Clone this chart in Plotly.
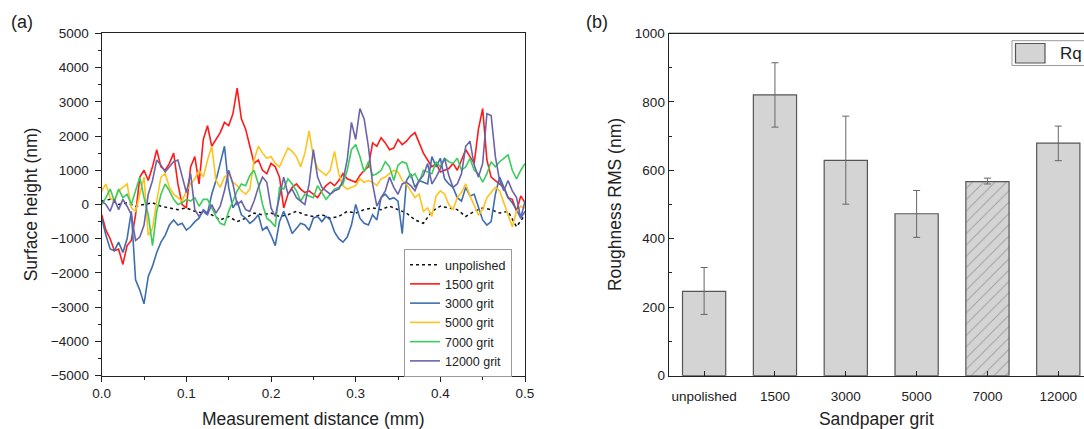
import numpy as np
import plotly.graph_objects as go

# ---------------- surface profiles (nm) vs distance (mm) ----------------
distance_mm = np.round(np.arange(0, 0.5001, 0.005), 3)
distance_unpolished_mm = np.round(np.arange(0, 0.5001, 0.01), 2)

unpolished = [100, 150, 0, 50, -50, 0, 50, -50, -100, -150,
              -100, -200, -250, -300, -450, -350, -500, -400, -250, -300,
              -250, -350, -300, -200, -300, -350, -300, -400, -350, -200,
              -250, -150, -100, -150, -50, -150, -250, -450, -550, -200,
              -50, -100, -150, -350, -200, -100, -150, -250, -200, -650,
              -300]

grit_1500 = [-300, -750, -1000, -1350, -1300, -1750, -1200, -1050, -300, 800,
             1000, 700, 1100, 1600, 1100, 1000, 1200, 1500, 600, 0,
             -100, 1100, 1400, 600, 1900, 2300, 1700, 1900, 2100, 2400,
             2300, 2650, 3400, 2500, 2200, 1700, 1200, 1300, 1000, 900,
             1200, 1100, 800, -100, 300, 500, 600, 450, 350, 400,
             300, 200, 400, 550, 650, 550, 700, 900, 750, 700,
             650, 850, 1000, 1100, 1800, 1700, 1950, 1800, 1600, 1650,
             1900, 1750, 1850, 2000, 2100, 1800, 1500, 1300, 1100, 1200,
             950, 1000, 1050, 1200, 1000, 1300, 1600, 1400, 1200, 2200,
             2800, 1300, 800, 700, 600, 500, 200, 150, -200, 250,
             50]

grit_3000 = [-400, -900, -1300, -1350, -1100, -1400, -1000, -200, -2200, -2500,
             -2900, -2100, -1800, -1400, -1100, -900, -600, -450, -600, -550,
             -750, -650, -500, -400, -150, -250, 300, 700, 1200, 1700,
             500, -100, 100, -300, -400, -550, -450, -300, -750, -650,
             -900, -1200, -500, -200, -500, -850, -700, -550, -600, -750,
             -400, -350, -500, -350, -450, -800, -1000, -1100, -950, -600,
             0, -400, -550, -600, -300, -450, 200, 300, 150, 200,
             100, -850, 700, 900, 500, 700, 650, 600, 1400, 1100,
             1350, 750, 600, 500, 200, 100, 500, 250, 300, -100,
             -450, -600, -500, 300, 800, 500, 200, 50, -150, -400,
             -200]

grit_5000 = [400, 600, 200, 100, 400, 500, 600, -100, -200, 300,
             800, -900, -700, 100, 800, 900, 500, 300, 200, 100,
             400, 600, 750, 1000, 800, 1300, 1700, 700, 500, 800,
             900, 650, 550, 400, 300, 450, 1300, 1700, 1500, 1350,
             1400, 1200, 1100, 1400, 1650, 1550, 1400, 1100, 1500, 2150,
             1400, 1050, 950, 850, 1000, 1550, 900, 550, 450, 500,
             550, 750, 650, 700, 650, 550, 750, 800, 900, 1000,
             950, 700, 600, 400, 200, 300, -200, -100, -350, 250,
             400, 300, 0, -150, 200, 350, 600, 250, 0, -300,
             -150, 200, 350, 500, 400, 50, -350, -650, -200, -50,
             -100]

grit_7000 = [0, 200, 450, 100, 450, 200, 300, 0, 400, 800,
             200, -300, -1200, -200, 300, 600, 400, 150, 0, 50,
             150, 100, 200, -50, 150, 150, -100, -350, -550, -600,
             -200, 100, 400, 600, 550, 850, 1000, 600, 0, -400,
             -500, -650, 500, 450, 750, 600, 400, 100, 300, 250,
             200, 550, 350, 150, 300, 450, 500, 600, 1000, 1600,
             1750, 1400, 950, 1250, 850, 900, 1000, 1250, 1100, 700,
             1150, 1250, 1200, 800, 900, 650, 1000, 950, 900, 1250,
             1100, 1350, 1250, 1200, 1350, 1000, 1100, 1350, 1000, 900,
             650, 900, 1250, 1100, 1250, 1350, 1450, 1000, 750, 1000,
             1200]

grit_12000 = [100, 0, -200, 150, -150, 150, -50, -300, -1050, -950,
              -600, 300, 700, 1300, 1150, 950, 1100, 1250, 1300, 800,
              350, 900, -150, -350, -200, -300, 0, -250, -50, 400,
              1000, 600, 0, 100, -150, -200, 100, 500, 800, 650,
              -100, -350, 200, 800, 300, 450, 200, 100, 0, 600,
              1600, 800, 500, 400, 300, 400, 450, 700, 1300, 2400,
              1900, 2800, 2500, 1700, 600, -50, 200, 400, 800, 500,
              300, 600, 650, 550, 400, 700, 850, 1200, 600, 800,
              1050, 1350, 850, 500, 600, 900, 1700, 1850, 1150, 800,
              1200, 2650, 2600, 1400, 700, 400, 700, 400, 200, -400,
              100]

# ---------------- roughness summary ----------------
grit_labels = ["unpolished", "1500", "3000", "5000", "7000", "12000"]
rq_nm = [246, 820, 629, 473, 567, 679]
rq_err_plus = [70, 94, 129, 68, 10, 50]
rq_err_minus = [67, 94, 128, 69, 7, 51]
bar_patterns = ["", "", "", "", "/", ""]

FONT = "Liberation Sans, Arial, sans-serif"
TXT = "#222222"
W, H = 1084, 429
TICK_SIZE = 13.5
TITLE_SIZE = 17.5

fig = go.Figure()

profiles = [
    ("1500 grit", grit_1500, "#FF1A1A"),
    ("3000 grit", grit_3000, "#3E6DB0"),
    ("5000 grit", grit_5000, "#FFC31F"),
    ("7000 grit", grit_7000, "#3CCB5C"),
    ("12000 grit", grit_12000, "#6A64AA"),
]

fig.add_trace(go.Scatter(
    x=distance_unpolished_mm, y=unpolished, name="unpolished", mode="lines",
    line=dict(color="#111111", width=1.5, dash="dot"),
    xaxis="x", yaxis="y", legend="legend"))
for name, vals, col in profiles:
    fig.add_trace(go.Scatter(
        x=distance_mm, y=vals, name=name, mode="lines",
        line=dict(color=col, width=1.6),
        xaxis="x", yaxis="y", legend="legend"))

fig.add_trace(go.Bar(
    x=grit_labels, y=rq_nm, name="Rq", width=0.61,
    marker=dict(color="#D4D4D4", line=dict(color="#555555", width=1.2),
                pattern=dict(shape=bar_patterns, fgcolor="#6E6E6E",
                             bgcolor="#D4D4D4", size=8, solidity=0.12,
                             fillmode="overlay")),
    error_y=dict(type="data", array=rq_err_plus, arrayminus=rq_err_minus,
                 color="#666666", thickness=1, width=3.5),
    xaxis="x2", yaxis="y2", showlegend=False))

axis_common = dict(showgrid=False, zeroline=False, showline=True,
                   linecolor="#222222", linewidth=1.2, tickcolor="#222222",
                   tickfont=dict(family=FONT, size=TICK_SIZE, color=TXT),
                   automargin=False)
title_font = dict(family=FONT, size=TITLE_SIZE, color=TXT)

fig.update_layout(
    width=W, height=H,
    margin=dict(l=0, r=0, t=0, b=0, autoexpand=False),
    paper_bgcolor="white", plot_bgcolor="white",
    font=dict(family=FONT, color=TXT),
    xaxis=dict(domain=[101.7 / W, 525 / W], range=[0, 0.5], dtick=0.1,
               tickformat=".1f", ticks="outside", ticklen=5, mirror=True,
               minor=dict(dtick=0.05, ticks="outside", ticklen=3,
                          tickcolor="#222222"),
               title=dict(text="Measurement distance (mm)", font=title_font,
                          standoff=12),
               anchor="y", **axis_common),
    yaxis=dict(domain=[(H - 375.7) / H, (H - 33.3) / H], range=[-5000, 5000],
               dtick=1000, ticks="outside", ticklen=6, mirror=True,
               ticklabelstandoff=3,
               minor=dict(dtick=500, ticks="outside", ticklen=3,
                          tickcolor="#222222"),
               title=dict(text="Surface height (nm)", font=title_font,
                          standoff=8),
               anchor="x", **axis_common),
    xaxis2=dict(domain=[668.7 / W, 1.0], range=[-0.5, 5.363],
                type="category", ticks="inside", ticklen=5,
                ticklabelstandoff=8,
                title=dict(text="Sandpaper grit", font=title_font,
                           standoff=13),
                anchor="y2", **axis_common),
    yaxis2=dict(domain=[(H - 375.7) / H, (H - 33.3) / H], range=[0, 1000],
                dtick=200, ticks="inside", ticklen=5,
                minor=dict(dtick=100, ticks="inside", ticklen=3,
                           tickcolor="#222222"),
                title=dict(text="Roughness RMS (nm)", font=title_font,
                           standoff=8),
                anchor="x2", **axis_common),
    legend=dict(x=404 / W, y=(H - 249) / H, xanchor="left", yanchor="top",
                bgcolor="white", bordercolor="#9A9A9A", borderwidth=1,
                font=dict(family=FONT, size=12.5, color=TXT),
                tracegroupgap=0, itemwidth=30),
    bargap=0.39,
)

# panel labels
fig.add_annotation(text="(a)", x=9 / W, y=(H - 22) / H, xref="paper", yref="paper",
                   xanchor="left", yanchor="middle", showarrow=False,
                   font=dict(family=FONT, size=18, color=TXT))
fig.add_annotation(text="(b)", x=584 / W, y=(H - 22) / H, xref="paper", yref="paper",
                   xanchor="left", yanchor="middle", showarrow=False,
                   font=dict(family=FONT, size=18, color=TXT))

# top frame line of the bar panel
fig.add_shape(type="line", xref="x2 domain", yref="y2 domain",
              x0=0, x1=1, y0=1, y1=1, line=dict(color="#222222", width=1.2))

# key for the bar series
fig.add_shape(type="rect", xref="paper", yref="paper",
              x0=1012 / W, x1=1.05, y0=(H - 65.5) / H, y1=(H - 40.7) / H,
              line=dict(color="#9A9A9A", width=1), fillcolor="white")
fig.add_shape(type="rect", xref="paper", yref="paper",
              x0=1015.5 / W, x1=1045 / W, y0=(H - 63) / H, y1=(H - 43.5) / H,
              line=dict(color="#555555", width=1.2), fillcolor="#D4D4D4")
fig.add_annotation(text="Rq", x=1058 / W, y=(H - 53) / H, xref="paper", yref="paper",
                   xanchor="left", yanchor="middle", showarrow=False,
                   font=dict(family=FONT, size=17, color=TXT))

fig.write_html("out.html")
